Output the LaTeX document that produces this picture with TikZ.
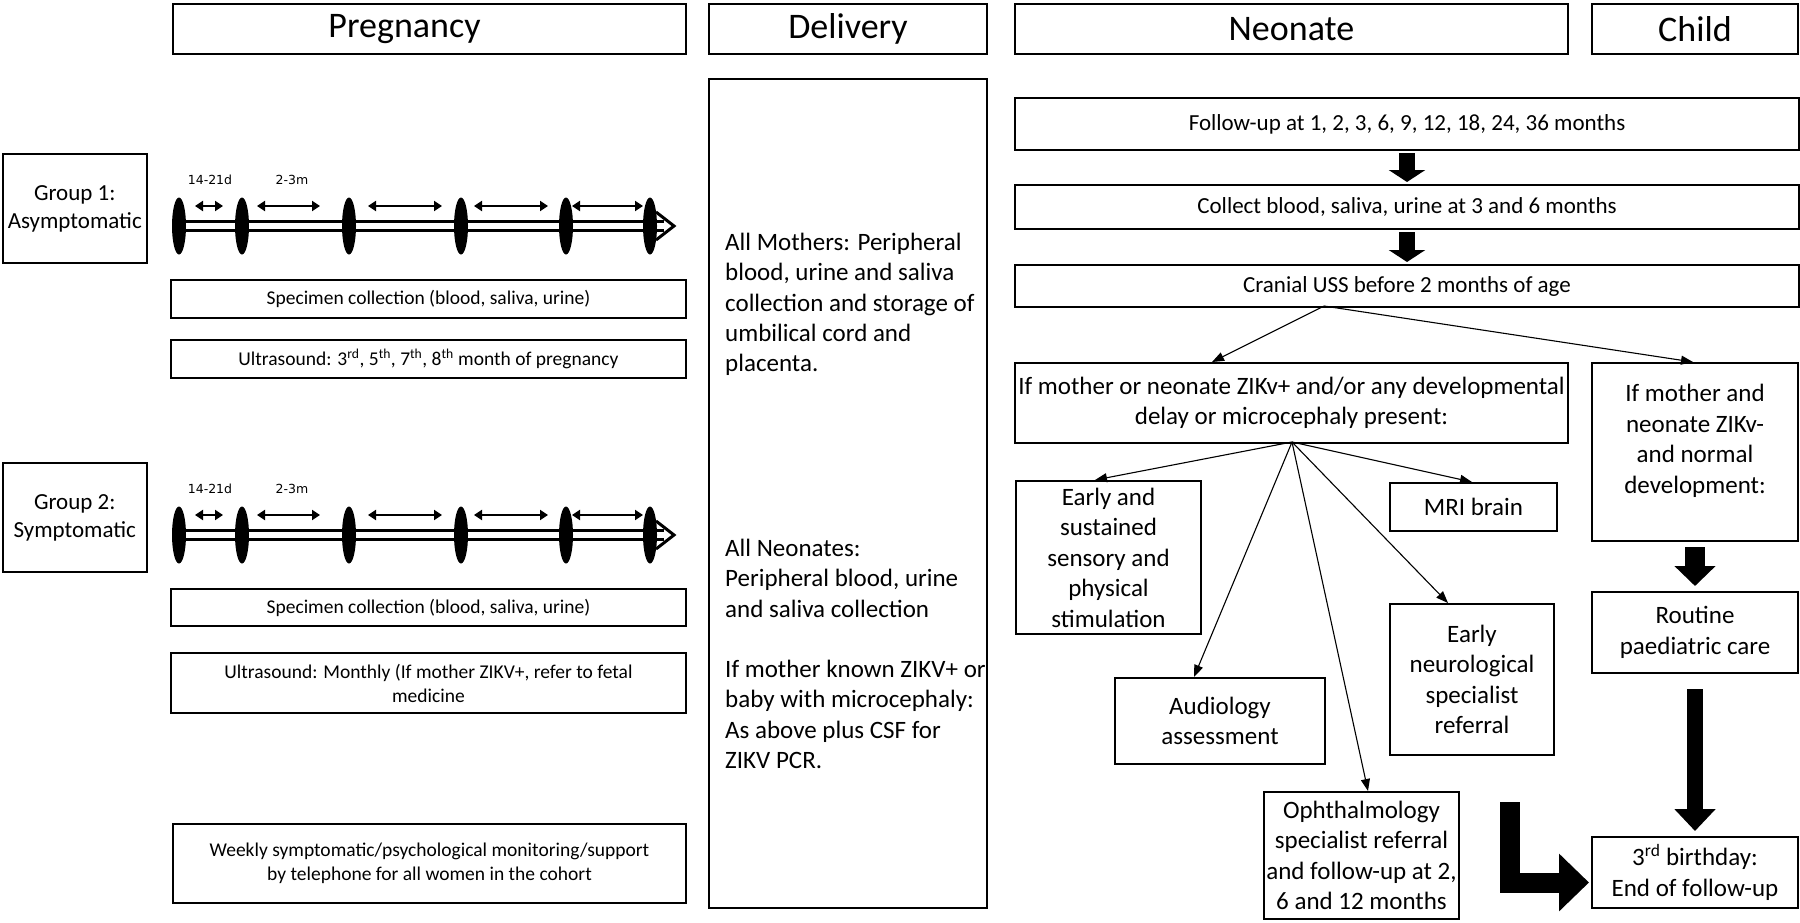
\documentclass[tikz,border=0pt]{standalone}
\usepackage{fontspec}
\setmainfont{Carlito}
\newfontfamily\tlfont{DejaVu Sans}
\usetikzlibrary{arrows.meta}
\newcommand{\mybox}[7][]{%
  \pgfmathsetmacro{\mybw}{#5-#3}%
  \pgfmathsetmacro{\mybh}{#6-#4}%
  \node[box,minimum width=\mybw pt,minimum height=\mybh pt,anchor=north west,#1] (#2) at (#3,#4) {#7};}
\newcommand{\mytimeline}[2]{%
  \foreach \ex in {179,242,349,461,566,650} \fill (\ex,{226+#1}) ellipse [x radius=7pt, y radius=28.5pt];
  \draw[line width=3pt] (179,{221.5+#1}) -- (664,{221.5+#1});
  \draw[line width=3pt] (179,{230+#1}) -- (664,{230+#1});
  \draw[line width=3pt,line join=miter] (656,{212+#1}) -- (674,{226+#1}) -- (656,{240+#1});
  \draw[spanarrow] (195,{206+#1}) -- (223,{206+#1});
  \draw[spanarrow] (257,{206+#1}) -- (320,{206+#1});
  \draw[spanarrow] (368,{206+#1}) -- (442,{206+#1});
  \draw[spanarrow] (474,{206+#1}) -- (548,{206+#1});
  \draw[spanarrow] (572,{206+#1}) -- (643,{206+#1});
  \node[tl] (#2a) at (210,{180+#1}) {14-21d};
  \node[tl] (#2b) at (292,{180+#1}) {2-3m};
}
\begin{document}
\begin{tikzpicture}[x=1pt,y=-1pt,
  box/.style={draw, line width=2pt, inner sep=2pt, align=center, font=\fontsize{25}{30.5}\selectfont},
  hdr/.style={font=\fontsize{36}{42}\selectfont},
  small/.style={font=\fontsize{19.5}{24}\selectfont},
  grp/.style={font=\fontsize{23}{28}\selectfont},
  mid/.style={font=\fontsize{23}{28}\selectfont},
  txt/.style={inner sep=0pt, align=left, font=\fontsize{25}{30.3}\selectfont},
  ctxt/.style={inner sep=0pt, align=center, font=\fontsize{25}{30.5}\selectfont},
  tl/.style={inner sep=0pt, font=\tlfont\fontsize{12.5}{15}\selectfont},
  spanarrow/.style={line width=2pt, {Triangle[length=8pt,width=10pt]}-{Triangle[length=8pt,width=10pt]}},
  fanarrow/.style={line width=1.1pt, -{Triangle[length=12pt,width=9pt]}},
  blocksmall/.style={line width=16pt, -{Triangle[length=12pt,width=36pt]}, shorten <=2pt, shorten >=2pt},
  blockbig/.style={line width=20pt, -{Triangle[length=20pt,width=40pt]}, shorten <=5pt, shorten >=5pt},
  blocklong/.style={line width=16pt, -{Triangle[length=22pt,width=40pt]}, shorten <=15pt, shorten >=5pt},
  blockL/.style={line width=20pt, line join=miter, -{Triangle[length=30pt,width=56pt]}, shorten >=2pt}
]
\useasboundingbox (0,0) rectangle (1800,922);
\fill[white] (0,0) rectangle (1800,922);
% headers
\mybox[hdr]{hP}{172}{3}{685}{53}{}
\node[hdr] (hPt) at ([xshift=-25pt]hP.center) {Pregnancy};
\mybox[hdr]{hD}{708}{3}{986}{53}{Delivery}
\mybox[hdr]{hN}{1014}{3}{1567}{53}{Neonate}
\mybox[hdr]{hC}{1591}{3}{1797}{53}{Child}
% pregnancy column
\mybox[grp]{g1}{1.5}{153}{146}{262}{Group 1:\\Asymptomatic}
\mybox[grp]{g2}{1.5}{462}{146}{571}{Group 2:\\Symptomatic}
\mytimeline{0}{ta}
\mytimeline{309}{tb}
\mybox[small]{sp1}{170}{279}{685}{317}{Specimen collection (blood, saliva, urine)}
\mybox[small]{us1}{170}{339}{685}{377}{Ultrasound: 3\textsuperscript{rd}, 5\textsuperscript{th}, 7\textsuperscript{th}, 8\textsuperscript{th} month of pregnancy}
\mybox[small]{sp2}{170}{588}{685}{625}{Specimen collection (blood, saliva, urine)}
\mybox[small]{us2}{170}{652}{685}{712}{Ultrasound: Monthly (If mother ZIKV+, refer to fetal\\medicine}
\mybox[small]{wk}{172}{823}{685}{902}{Weekly symptomatic/psychological monitoring/support\\by telephone for all women in the cohort}
% delivery column
\mybox{del}{708}{78}{986}{907}{}
\node[txt,anchor=north west] (dm) at (725,233) {All Mothers: Peripheral\\blood, urine and saliva\\collection and storage of\\umbilical cord and\\placenta.};
\node[txt,anchor=north west] (dn) at (725,539) {All Neonates:\\Peripheral blood, urine\\and saliva collection};
\node[txt,anchor=north west] (dz) at (725,660) {If mother known ZIKV+ or\\baby with microcephaly:\\As above plus CSF for\\ZIKV PCR.};
% neonate column
\mybox[mid]{fu}{1014}{97}{1798}{149}{Follow-up at 1, 2, 3, 6, 9, 12, 18, 24, 36 months}
\mybox[mid]{cb}{1014}{184}{1798}{228}{Collect blood, saliva, urine at 3 and 6 months}
\mybox[mid]{cu}{1014}{264}{1798}{306}{Cranial USS before 2 months of age}
\mybox{im}{1014}{362}{1567}{442}{If mother or neonate ZIKv+ and/or any developmental\\delay or microcephaly present:}
\mybox{ir}{1591}{362}{1797}{540}{}
\node[ctxt] (irt) at ([yshift=11pt]ir.center) {If mother and\\neonate ZIKv-\\and normal\\development:};
\mybox{es}{1015}{480}{1200}{633}{Early and\\sustained\\sensory and\\physical\\stimulation}
\mybox{mri}{1389}{482}{1556}{530}{MRI brain}
\mybox{au}{1114}{677}{1324}{763}{Audiology\\assessment}
\mybox{en}{1389}{603}{1553}{754}{Early\\neurological\\specialist\\referral}
\mybox{op}{1263}{791}{1458}{918}{Ophthalmology\\specialist referral\\and follow-up at 2,\\6 and 12 months}
\mybox{rp}{1591}{591}{1797}{672}{Routine\\paediatric care}
\mybox{bd}{1591}{836}{1797}{907}{3\textsuperscript{rd} birthday:\\End of follow-up}
% connectors
\draw[blocksmall] (fu.south) -- (cb.north);
\draw[blocksmall] (cb.south) -- (cu.north);
\coordinate (co) at (1324,306);
\draw[fanarrow] (co) -- (1212,362);
\draw[fanarrow] (co) -- (1693,362);
\coordinate (fo) at (1292,442);
\draw[fanarrow] (fo) -- (1095,480);
\draw[fanarrow] (fo) -- (1472,482);
\draw[fanarrow] (fo) -- (1194,677);
\draw[fanarrow] (fo) -- (1448,603);
\draw[fanarrow] (fo) -- (1368,791);
\draw[blockbig] (ir.south) -- (rp.north);
\draw[blocklong] (rp.south) -- (bd.north);
\coordinate (lstart) at (1510,802);
\draw[blockL] (lstart) |- ([yshift=-10pt]bd.west);
\end{tikzpicture}
\end{document}
